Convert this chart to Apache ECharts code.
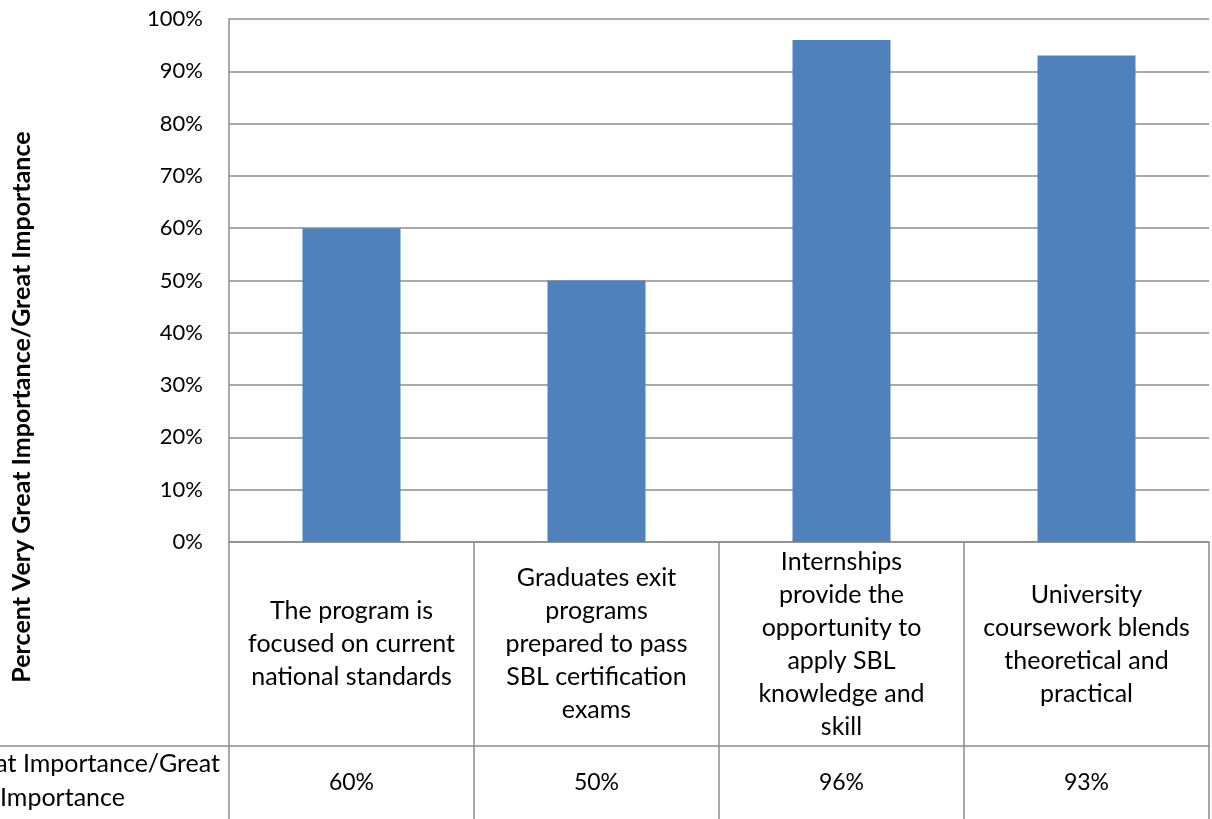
<!DOCTYPE html>
<html>
<head>
<meta charset="utf-8">
<script src="https://cdn.jsdelivr.net/npm/echarts@6/dist/echarts.min.js"></script>
<style>html,body{margin:0;padding:0;background:#fff}#c{width:1212px;height:819px}</style>
</head>
<body>
<div id="c"></div>
<script>
const categories = [
  "The program is\nfocused on current\nnational standards",
  "Graduates exit\nprograms\nprepared to pass\nSBL certification\nexams",
  "Internships\nprovide the\nopportunity to\napply SBL\nknowledge and\nskill",
  "University\ncoursework blends\ntheoretical and\npractical"
];
const values = [60, 50, 96, 93];
const seriesName = "Percent Very Great Importance/Great Importance";
const yTicks = [0, 10, 20, 30, 40, 50, 60, 70, 80, 90, 100];

const FONT = "Lato, 'Open Sans', sans-serif";
const GRAY = "#8c8c8c";
const chart = echarts.init(document.getElementById('c'), null, {renderer: 'canvas'});
chart.setOption({
  animation: false,
  grid: {left: 229, right: 3, top: 19, bottom: 277, containLabel: false, outerBoundsMode: 'none'},
  xAxis: [{
    type: 'category',
    data: categories,
    boundaryGap: true,
    axisLine: {show: true, lineStyle: {color: GRAY, width: 1.5}},
    axisTick: {show: true, length: 277, lineStyle: {color: GRAY, width: 1.5}},
    axisLabel: {margin: 102, verticalAlign: 'middle', lineHeight: 33, fontSize: 25, color: '#000', fontFamily: FONT, interval: 0}
  }, {
    type: 'category',
    data: values.map(v => v + '%'),
    position: 'bottom',
    offset: 204,
    axisLine: {show: true, lineStyle: {color: GRAY, width: 1.5}},
    axisTick: {show: false},
    axisLabel: {margin: 37, verticalAlign: 'middle', fontSize: 23, color: '#000', fontFamily: FONT, interval: 0}
  }],
  yAxis: {
    type: 'value',
    min: yTicks[0],
    max: yTicks[yTicks.length - 1],
    interval: 10,
    axisLine: {show: true, lineStyle: {color: GRAY, width: 1.5}},
    axisTick: {show: false},
    axisLabel: {formatter: '{value}%', fontSize: 22, color: '#000', fontFamily: FONT, margin: 26},
    splitLine: {show: true, lineStyle: {color: GRAY, width: 1.5}}
  },
  series: [{
    name: seriesName,
    type: 'bar',
    data: values,
    barWidth: '40%',
    itemStyle: {color: '#4f81bd'}
  }],
  graphic: [
    {type: 'text', x: 22, y: 407, rotation: Math.PI / 2, style: {text: seriesName, align: 'center', verticalAlign: 'middle', fill: '#000', font: 'bold 25px ' + FONT}},
    {type: 'line', shape: {x1: 0, y1: 746, x2: 229, y2: 746}, style: {stroke: GRAY, lineWidth: 1.5}},
    {type: 'text', x: 220, y: 764, style: {text: 'Percent Very Great Importance/Great', align: 'right', verticalAlign: 'middle', fill: '#000', font: '25px ' + FONT}},
    {type: 'text', x: 0, y: 798, style: {text: 'Importance', align: 'left', verticalAlign: 'middle', fill: '#000', font: '25px ' + FONT}}
  ]
});
</script>
</body>
</html>
